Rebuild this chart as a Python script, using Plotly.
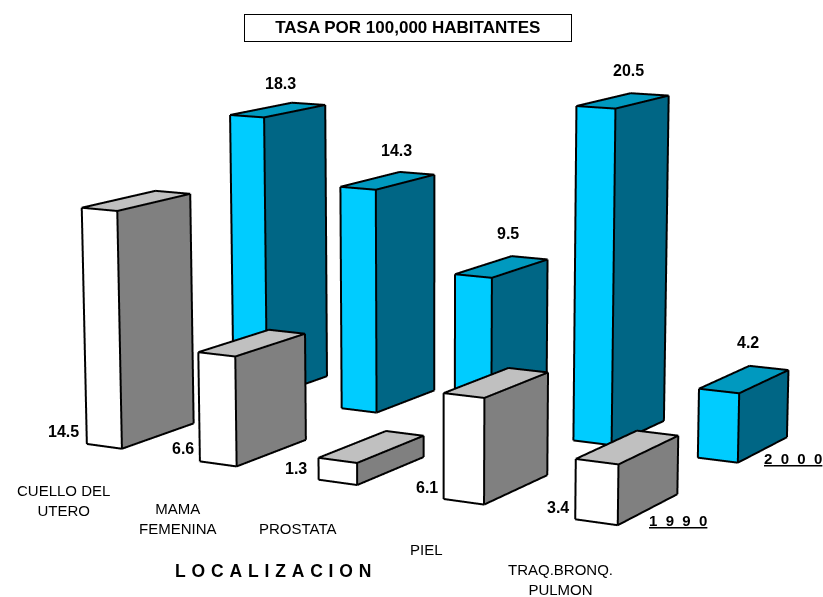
import numpy as np
import plotly.graph_objects as go

# ---- data ----
categories = ["CUELLO DEL<br>UTERO", "MAMA<br>FEMENINA", "PROSTATA", "PIEL", "TRAQ.BRONQ.<br>PULMON"]
values_1990 = [14.5, 6.6, 1.3, 6.1, 3.4]
values_2000 = [18.3, 14.3, 9.5, 20.5, 4.2]
series_names = ["1  9  9  0", "2  0  0  0"]

# ---- styles ----
COL_1990 = ("#FFFFFF", "#808080", "#C0C0C0")
COL_2000 = ("#00CCFF", "#006685", "#0099BF")
FONT = "Liberation Sans, Arial, sans-serif"
W, H = 823, 597

# ---- ground layout of the bars (in units of one value) ----
A0, A_STEP = -101.9, 8.46
B_ROW = [144.8, 161.2]
B_DRIFT = -0.4
BAR_W = 2.58
BAR_D = [7.8, 7.55]

# ---- long-lens perspective of the original, expressed on an orthographic scene ----
F, CX, CY, CAM_H = 3000.0, 430.0, 300.0, 42.1
E_B = np.array([0.4866, -0.1608, 0.8586])
E_A = np.array([0.8737, 0.0896, -0.4783])
E_Z = np.array([0.0, -0.9829, -0.1843])

# scene calibration
PX_PER_WORLD = 298.5
G = 16.0
ZC = 10.0
RY = 450.0


def ground(a, b, z):
    p = a * E_A + b * E_B + (z - CAM_H) * E_Z
    sx = CX + F * p[0] / p[2]
    sy = CY + F * p[1] / p[2]
    # scene X, Y so that the orthographic camera shows height z at that spot
    return sx, (H / 2 - sy) - G * (z - ZC), z


def box(i, s, v):
    a = A0 + A_STEP * i
    b = B_ROW[s] + B_DRIFT * i
    d = BAR_D[s]
    corners = [(a - BAR_W, b), (a, b), (a, b + d), (a - BAR_W, b + d)]
    return [ground(ca, cb, 0.0) for ca, cb in corners] + [ground(ca, cb, v) for ca, cb in corners]


def bar_traces(i, s, v, cols):
    pts = np.array(box(i, s, v))
    # faces: front (0,1,5,4), side (1,2,6,5), top (4,5,6,7)
    ti = [0, 0, 1, 1, 4, 4]
    tj = [1, 5, 2, 6, 5, 6]
    tk = [5, 4, 6, 5, 6, 7]
    fc = [cols[0], cols[0], cols[1], cols[1], cols[2], cols[2]]
    mesh = go.Mesh3d(x=pts[:, 0], y=pts[:, 1], z=pts[:, 2], i=ti, j=tj, k=tk, facecolor=fc,
                     flatshading=True,
                     lighting=dict(ambient=1, diffuse=0, specular=0, fresnel=0, roughness=1),
                     hoverinfo="skip", showscale=False)
    edges = [(0, 1), (1, 2), (2, 6), (6, 5), (5, 1), (0, 4), (4, 5), (4, 7), (7, 6)]
    ex, ey, ez = [], [], []
    for p, q in edges:
        # edges are nudged towards the camera along the line of sight
        for n in (p, q):
            ex.append(pts[n, 0]); ey.append(pts[n, 1] - 0.8); ez.append(pts[n, 2] + 0.05)
        ex.append(None); ey.append(None); ez.append(None)
    line = go.Scatter3d(x=ex, y=ey, z=ez, mode="lines", line=dict(color="black", width=4),
                        hoverinfo="skip", showlegend=False)
    return [mesh, line]


fig = go.Figure()
for i, v in enumerate(values_2000):
    for t in bar_traces(i, 1, v, COL_2000):
        fig.add_trace(t)
for i, v in enumerate(values_1990):
    for t in bar_traces(i, 0, v, COL_1990):
        fig.add_trace(t)

# ---- text ----
pos_2000 = [(280, 84), (396, 150), (508, 233), (628, 70), (748, 342)]
pos_1990 = [(63, 431), (183, 448), (296, 468), (427, 487), (558, 508)]
pos_cat = [(63, 500), (178, 518), (298, 528), (426, 549.5), (560, 579.5)]
pos_series = [(678, 520), (793, 458)]


def note(x, y, text, size=14, bold=False, **kw):
    txt = f"<b>{text}</b>" if bold else text
    return dict(x=x / W, y=1 - y / H, xref="paper", yref="paper", text=txt, showarrow=False,
                xanchor="center", yanchor="middle", font=dict(family=FONT, size=size, color="black"), **kw)


anns = []
for v, p in zip(values_2000, pos_2000):
    anns.append(note(p[0], p[1], f"{v:.1f}", 16, True))
for v, p in zip(values_1990, pos_1990):
    anns.append(note(p[0], p[1], f"{v:.1f}", 16, True))
for c, p in zip(categories, pos_cat):
    anns.append(note(p[0], p[1], c, 15))
for n, p in zip(series_names, pos_series):
    anns.append(note(p[0], p[1], "<u>" + n.replace(" ", "\u00a0") + "</u>", 15, True))
anns.append(note(273, 571, "\u2004".join("LOCALIZACION"), 17.5, True))
anns.append(note(408.2, 27.9, "TASA POR 100,000 HABITANTES", 17, True, width=323.5, height=23.5,
                 bordercolor="black", borderwidth=1, bgcolor="white"))

hidden = dict(visible=False)
fig.update_layout(
    width=W, height=H, margin=dict(l=0, r=0, t=0, b=0), paper_bgcolor="white", showlegend=False,
    annotations=anns,
    scene=dict(
        domain=dict(x=[0, 1], y=[0, 1]),
        xaxis=dict(range=[0, W], **hidden),
        yaxis=dict(range=[-RY, RY], **hidden),
        zaxis=dict(range=[ZC - 20, ZC + 20], **hidden),
        bgcolor="white",
        aspectmode="manual",
        aspectratio=dict(x=W / PX_PER_WORLD,
                         y=2 * RY / (PX_PER_WORLD * np.sin(np.pi / 4)),
                         z=40 * G / (PX_PER_WORLD * np.cos(np.pi / 4))),
        camera=dict(eye=dict(x=0, y=-1, z=1), center=dict(x=0, y=0, z=0), up=dict(x=0, y=0, z=1),
                    projection=dict(type="orthographic")),
    ),
)
fig.write_html("out.html", config=dict(displayModeBar=False),
               post_script="document.body.style.margin='0';")
